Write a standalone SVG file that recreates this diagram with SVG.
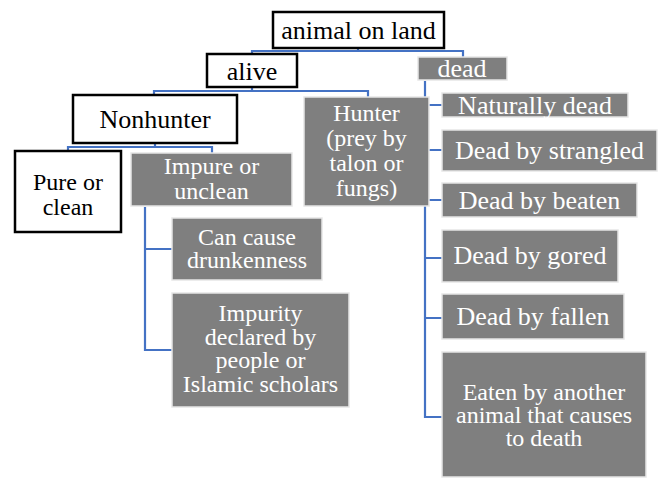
<svg xmlns="http://www.w3.org/2000/svg" width="659" height="478" viewBox="0 0 659 478">
<style>
.w{fill:#fff;stroke:#000;stroke-width:2.5}
.g{fill:#7f7f7f;stroke:#e6e6e6;stroke-width:1.5}
text{font-family:"Liberation Serif","Times New Roman",serif;font-size:26px;text-anchor:middle;dominant-baseline:central}
text.m{font-size:24px}
.tw{fill:#000}
.tg{fill:#fff}
.c{fill:none;stroke:#4472c4;stroke-width:2.2}
</style>
<rect width="659" height="478" fill="#fff"/>
<g id="connectors">
<path class="c" d="M252,54 V51 H463 V57 M358,48 V51"/>
<path class="c" d="M154,95 V91 H368 V97 M252,87 V91"/>
<path class="c" d="M68,151 V147 H212 V153 M155,143 V147"/>
<path class="c" d="M145,207 V350 H172 M145,249 H172"/>
<path class="c" d="M425,81 V417 H442 M425,105 H442 M425,150 H442 M425,200 H442 M425,258 H442 M425,318 H442"/>
</g>
<g id="n-animal"><rect class="w" x="273" y="12" width="171" height="36"/><text class="tw" x="358.5" y="30">animal on land</text></g>
<g id="n-alive"><rect class="w" x="207" y="54" width="90" height="33"/><text class="tw" x="252" y="71">alive</text></g>
<g id="n-dead"><rect class="g" x="418" y="57" width="89" height="23"/><text class="tg" x="462" y="68">dead</text></g>
<g id="n-nonhunter"><rect class="w" x="73" y="95" width="164" height="48"/><text class="tw" x="155" y="119">Nonhunter</text></g>
<g id="n-hunter"><rect class="g" x="304" y="97" width="125" height="109"/><text class="tg m" x="366.5"><tspan x="366.5" y="113">Hunter</tspan><tspan x="366.5" y="138">(prey by</tspan><tspan x="366.5" y="163">talon or</tspan><tspan x="366.5" y="188">fungs)</tspan></text></g>
<g id="n-pure"><rect class="w" x="15" y="151" width="106" height="81"/><text class="tw m"><tspan x="68" y="182">Pure or</tspan><tspan x="68" y="207">clean</tspan></text></g>
<g id="n-impure"><rect class="g" x="131" y="153" width="161" height="53"/><text class="tg m"><tspan x="211.5" y="166">Impure or</tspan><tspan x="211.5" y="191">unclean</tspan></text></g>
<g id="n-drunk"><rect class="g" x="172" y="218" width="150" height="62"/><text class="tg m"><tspan x="247" y="237">Can cause</tspan><tspan x="247" y="260">drunkenness</tspan></text></g>
<g id="n-impurity"><rect class="g" x="172" y="293" width="177" height="114"/><text class="tg m"><tspan x="260.5" y="313">Impurity</tspan><tspan x="260.5" y="337">declared by</tspan><tspan x="260.5" y="360">people or</tspan><tspan x="260.5" y="384">Islamic scholars</tspan></text></g>
<g id="n-natural"><rect class="g" x="442" y="93" width="186" height="24"/><text class="tg" x="535" y="105">Naturally dead</text></g>
<g id="n-strangled"><rect class="g" x="442" y="130" width="215" height="41"/><text class="tg" x="549.5" y="150">Dead by strangled</text></g>
<g id="n-beaten"><rect class="g" x="442" y="183" width="195" height="34"/><text class="tg" x="539.5" y="200">Dead by beaten</text></g>
<g id="n-gored"><rect class="g" x="442" y="230" width="176" height="52"/><text class="tg" x="530" y="255">Dead by gored</text></g>
<g id="n-fallen"><rect class="g" x="442" y="294" width="182" height="45"/><text class="tg" x="533" y="316">Dead by fallen</text></g>
<g id="n-eaten"><rect class="g" x="442" y="352" width="204" height="125"/><text class="tg m"><tspan x="544" y="392">Eaten by another</tspan><tspan x="544" y="415">animal that causes</tspan><tspan x="544" y="438">to death</tspan></text></g>
</svg>
